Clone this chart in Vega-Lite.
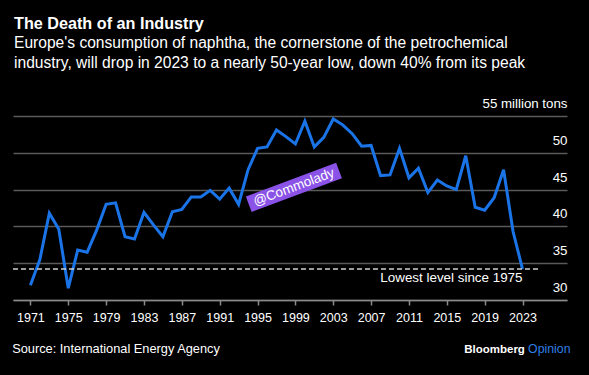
{
  "$schema": "https://vega.github.io/schema/vega-lite/v6.json",
  "width": 554,
  "height": 184,
  "autosize": "none",
  "padding": {"left": 13, "top": 116, "right": 22, "bottom": 75},
  "background": "#000000",
  "config": {"view": {"stroke": null}, "font": "Liberation Sans"},
  "title": {
    "text": "The Death of an Industry",
    "subtitle": ["Europe's consumption of naphtha, the cornerstone of the petrochemical", "industry, will drop in 2023 to a nearly 50-year low, down 40% from its peak"],
    "anchor": "start",
    "frame": "group",
    "offset": 25,
    "dx": 1,
    "color": "#ffffff",
    "font": "Liberation Sans",
    "fontSize": 16.2,
    "fontWeight": "bold",
    "subtitleColor": "#ffffff",
    "subtitleFont": "Liberation Sans",
    "subtitleFontSize": 15.6,
    "subtitleLineHeight": 20,
    "subtitlePadding": 4
  },
  "encoding": {
    "x": {
      "field": "year", "type": "quantitative",
      "scale": {"domain": [1969.16, 2027.7], "nice": false, "zero": false},
      "axis": {
        "title": null, "values": [1971, 1975, 1979, 1983, 1987, 1991, 1995, 1999, 2003, 2007, 2011, 2015, 2019, 2023],
        "format": "d", "grid": false, "domainColor": "#8a8a8a", "domainWidth": 1.5, "tickColor": "#8a8a8a", "tickSize": 5, "tickWidth": 1.5,
        "labelColor": "#ffffff", "labelFont": "Liberation Sans", "labelFontSize": 12.5, "labelPadding": 6,
        "labelFlush": false, "labelOverlap": false, "labelBound": false
      }
    },
    "y": {
      "field": "value", "type": "quantitative",
      "scale": {"domain": [30, 55], "nice": false, "zero": false},
      "axis": {
        "title": null, "orient": "right", "values": [30, 35, 40, 45, 50, 55],
        "domain": false, "ticks": false, "tickSize": 0, "grid": true, "gridColor": "#5a5a5a", "gridWidth": 1.5,
        "labelColor": "#ffffff", "labelFont": "Liberation Sans", "labelFontSize": 13.3, "labelAlign": "right",
        "labelBaseline": "alphabetic", "labelPadding": 0, "labelOffset": -8.5,
        "labelFlush": false, "labelOverlap": false, "labelBound": false,
        "labelExpr": "datum.value == 55 ? '55 million tons' : datum.label"
      }
    }
  },
  "layer": [
    {
      "data": {"values": [
        {"year": 1971, "value": 32.0}, {"year": 1972, "value": 35.5}, {"year": 1973, "value": 41.8}, {"year": 1974, "value": 39.6},
        {"year": 1975, "value": 31.6}, {"year": 1976, "value": 36.8}, {"year": 1977, "value": 36.5}, {"year": 1978, "value": 39.5},
        {"year": 1979, "value": 43.0}, {"year": 1980, "value": 43.2}, {"year": 1981, "value": 38.6}, {"year": 1982, "value": 38.3},
        {"year": 1983, "value": 41.9}, {"year": 1984, "value": 40.2}, {"year": 1985, "value": 38.6}, {"year": 1986, "value": 42.0},
        {"year": 1987, "value": 42.3}, {"year": 1988, "value": 44.0}, {"year": 1989, "value": 44.0}, {"year": 1990, "value": 44.9},
        {"year": 1991, "value": 43.7}, {"year": 1992, "value": 45.2}, {"year": 1993, "value": 43.0}, {"year": 1994, "value": 47.7},
        {"year": 1995, "value": 50.6}, {"year": 1996, "value": 50.8}, {"year": 1997, "value": 53.1}, {"year": 1998, "value": 52.2},
        {"year": 1999, "value": 51.2}, {"year": 2000, "value": 54.3}, {"year": 2001, "value": 50.8}, {"year": 2002, "value": 52.1},
        {"year": 2003, "value": 54.6}, {"year": 2004, "value": 53.8}, {"year": 2005, "value": 52.6}, {"year": 2006, "value": 50.9},
        {"year": 2007, "value": 51.0}, {"year": 2008, "value": 46.9}, {"year": 2009, "value": 47.0}, {"year": 2010, "value": 50.6},
        {"year": 2011, "value": 46.6}, {"year": 2012, "value": 47.9}, {"year": 2013, "value": 44.6}, {"year": 2014, "value": 46.3},
        {"year": 2015, "value": 45.5}, {"year": 2016, "value": 45.0}, {"year": 2017, "value": 49.6}, {"year": 2018, "value": 42.6},
        {"year": 2019, "value": 42.2}, {"year": 2020, "value": 43.9}, {"year": 2021, "value": 47.7}, {"year": 2022, "value": 39.3},
        {"year": 2023, "value": 34.2}
      ]},
      "mark": {"type": "line", "color": "#1a74e8", "strokeWidth": 3, "strokeJoin": "miter"}
    },
    {
      "data": {"values": [{"year": 1969.16, "year2": 2024.66, "value": 34.2}]},
      "mark": {"type": "rule", "color": "#d0d0d0", "strokeWidth": 1.5, "strokeDash": [5, 3]},
      "encoding": {"x2": {"field": "year2"}}
    },
    {
      "data": {"values": [{"year": 2023, "value": 32.4, "label": "Lowest level since 1975"}]},
      "mark": {"type": "text", "align": "right", "baseline": "alphabetic", "color": "#ffffff", "font": "Liberation Sans", "fontSize": 13.4},
      "encoding": {"text": {"field": "label"}}
    },
    {
      "data": {"values": [{"year": 1998.84, "value": 45.31, "label": "@Commolady"}]},
      "layer": [
        {"mark": {"type": "point", "shape": "M-1,-0.171L1,-0.171L1,0.171L-1,0.171Z", "size": 9290, "angle": 339.5, "filled": true, "color": "#8a52e6", "opacity": 1}},
        {"mark": {"type": "text", "align": "center", "baseline": "middle", "angle": 339.5, "color": "#ffffff", "font": "Liberation Sans", "fontSize": 13.5}, "encoding": {"text": {"field": "label"}}}
      ]
    },
    {
      "data": {"values": [
        {"year": 1969.07, "value": 22.78, "label": "Source: International Energy Agency", "kind": "source"},
        {"year": 2023.25, "value": 22.82, "label": "Bloomberg", "kind": "brand"},
        {"year": 2028.07, "value": 22.82, "label": "Opinion", "kind": "opinion"}
      ]},
      "layer": [
        {"transform": [{"filter": "datum.kind == 'source'"}], "mark": {"type": "text", "align": "left", "baseline": "alphabetic", "color": "#ffffff", "font": "Liberation Sans", "fontSize": 12.8}, "encoding": {"text": {"field": "label"}}},
        {"transform": [{"filter": "datum.kind == 'brand'"}], "mark": {"type": "text", "align": "right", "baseline": "alphabetic", "color": "#ffffff", "font": "Liberation Sans", "fontSize": 11.5, "fontWeight": "bold"}, "encoding": {"text": {"field": "label"}}},
        {"transform": [{"filter": "datum.kind == 'opinion'"}], "mark": {"type": "text", "align": "right", "baseline": "alphabetic", "color": "#2f7fe6", "font": "Liberation Sans", "fontSize": 12.3}, "encoding": {"text": {"field": "label"}}}
      ]
    }
  ]
}
